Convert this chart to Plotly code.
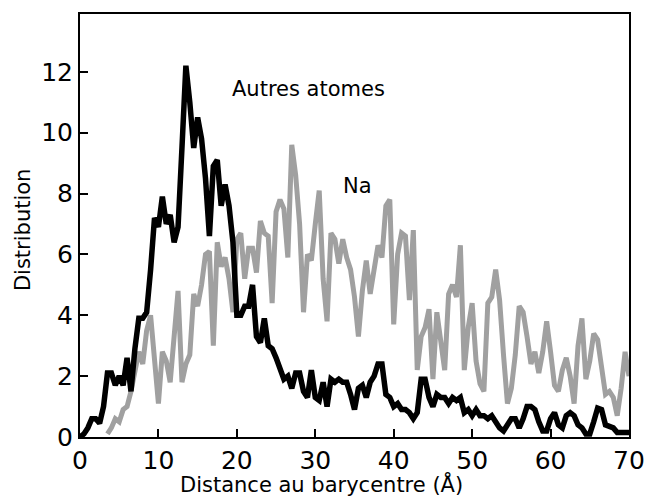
import plotly.graph_objects as go

# Distance (Å) sample positions
x_autres = [i * 0.5 for i in range(141)]
y_autres = [0.0, 0.1, 0.3, 0.6, 0.6, 0.45, 1.0, 2.1, 2.1, 1.7,
            2.0, 1.7, 2.6, 1.5, 2.9, 3.9, 3.9, 4.1, 5.5, 7.2,
            6.9, 7.9, 7.0, 7.3, 6.4, 6.9, 9.5, 12.2, 11.0, 9.5,
            10.5, 9.8, 8.5, 6.6, 8.9, 9.1, 7.6, 8.3, 7.6, 6.4,
            4.0, 4.0, 4.3, 4.3, 5.0, 3.3, 3.1, 3.9, 3.0, 2.9,
            2.6, 2.2, 1.9, 2.0, 1.6, 2.1, 2.1, 1.5, 1.3, 2.2,
            1.3, 1.2, 1.8, 1.0, 1.9, 1.8, 1.9, 1.8, 1.8, 1.4,
            0.9, 1.6, 1.7, 1.3, 1.8, 2.0, 2.4, 2.4, 1.4, 1.3,
            1.0, 1.1, 0.9, 0.9, 0.8, 0.6, 0.8, 1.9, 1.9, 1.3,
            1.0, 1.4, 1.3, 1.3, 1.1, 1.3, 1.2, 1.3, 0.8, 0.9,
            0.7, 0.9, 0.7, 0.7, 0.6, 0.7, 0.5, 0.3, 0.2, 0.4,
            0.6, 0.6, 0.3, 0.6, 1.0, 1.0, 0.9, 0.5, 0.2, 0.2,
            0.6, 0.8, 0.4, 0.3, 0.7, 0.8, 0.7, 0.4, 0.3, 0.1,
            0.1, 0.5, 0.95, 0.9, 0.4, 0.35, 0.3, 0.15, 0.15, 0.15,
            0.15]

x_na = [3.5 + i * 0.5 for i in range(134)]
y_na = [0.1, 0.3, 0.6, 0.5, 0.9, 1.0, 1.5, 2.2, 2.8, 2.4,
        3.5, 4.0, 2.6, 1.1, 2.8, 2.5, 1.8, 3.1, 4.8, 1.8,
        2.4, 2.7, 4.7, 4.3, 5.0, 6.0, 6.1, 3.0, 6.4, 5.6,
        5.9, 5.2, 4.1, 6.5, 6.7, 5.2, 6.2, 6.2, 5.4, 7.1,
        6.7, 6.6, 4.4, 7.4, 7.8, 7.5, 5.9, 9.6, 8.6, 7.0,
        4.1, 6.0, 5.8, 7.0, 8.1, 5.2, 3.8, 6.7, 6.5, 5.7,
        6.5, 5.9, 5.5, 4.6, 3.3, 4.8, 5.8, 4.7, 5.5, 6.3,
        5.9, 7.6, 7.8, 3.7, 6.0, 6.7, 6.6, 4.5, 6.8, 2.2,
        3.3, 3.6, 4.2, 1.9, 4.1, 3.0, 2.2, 4.7, 5.0, 4.6,
        6.3, 2.2, 3.6, 4.4, 2.5, 1.75, 1.5, 4.4, 4.6, 5.5,
        4.5, 2.7, 1.1, 1.6, 2.7, 4.3, 4.1, 3.3, 2.4, 2.8,
        2.1, 2.8, 3.8, 2.8, 1.7, 1.5, 2.2, 2.6, 2.0, 1.1,
        3.0, 3.9, 1.9, 2.5, 3.4, 3.2, 2.2, 1.4, 1.5, 1.3,
        0.7, 1.6, 2.8, 2.0]

x_ticks = [0, 10, 20, 30, 40, 50, 60, 70]
y_ticks = [0, 2, 4, 6, 8, 10, 12]

FONT = "DejaVu Sans"

fig = go.Figure()
fig.add_trace(go.Scatter(x=x_na, y=y_na, mode="lines",
                         line=dict(color="#a0a0a0", width=5),
                         name="Na", showlegend=False))
fig.add_trace(go.Scatter(x=x_autres, y=y_autres, mode="lines",
                         line=dict(color="black", width=5.5),
                         name="Autres atomes", showlegend=False))

fig.add_annotation(x=29.1, y=11.44, text="Autres atomes", showarrow=False,
                   xanchor="center", yanchor="middle",
                   font=dict(family=FONT, size=21, color="black"))
fig.add_annotation(x=35.4, y=8.26, text="Na", showarrow=False,
                   xanchor="center", yanchor="middle",
                   font=dict(family=FONT, size=21, color="black"))
fig.add_annotation(xref="paper", yref="paper", x=0.44, y=-0.11,
                   text="Distance au barycentre (Å)", showarrow=False,
                   xanchor="center", yanchor="middle",
                   font=dict(family=FONT, size=21, color="black"))
fig.add_annotation(xref="paper", yref="paper", x=-0.105, y=0.49,
                   text="Distribution", showarrow=False, textangle=-90,
                   xanchor="center", yanchor="middle",
                   font=dict(family=FONT, size=21, color="black"))

fig.update_xaxes(range=[0, 70], tickvals=x_ticks, ticks="inside", ticklen=8,
                 tickwidth=2, tickcolor="black", showline=True, linecolor="black",
                 linewidth=2, mirror=True, showgrid=False, zeroline=False,
                 tickfont=dict(family=FONT, size=25, color="black"))
fig.update_yaxes(range=[0, 13.9], tickvals=y_ticks, ticks="inside", ticklen=8,
                 tickwidth=2, tickcolor="black", showline=True, linecolor="black",
                 linewidth=2, mirror=True, showgrid=False, zeroline=False,
                 tickfont=dict(family=FONT, size=25, color="black"))

fig.update_layout(width=657, height=497, margin=dict(l=80, r=23, t=12, b=60),
                  plot_bgcolor="white", paper_bgcolor="white")

fig.write_html("out.html")
